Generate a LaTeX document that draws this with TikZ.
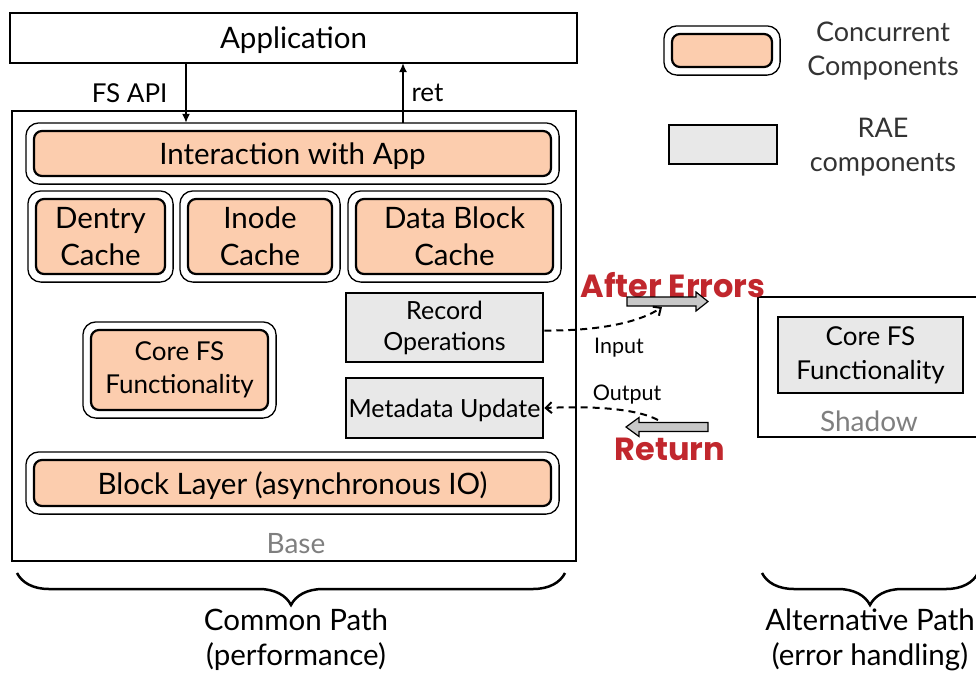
\documentclass[tikz,border=0pt]{standalone}
\usepackage{fontspec}
\setmainfont{Lato}
\newfontfamily\heavyfont{Poppins}
\usetikzlibrary{arrows.meta,decorations.pathreplacing,calc}
\definecolor{peach}{HTML}{FCCDAE}
\definecolor{raegray}{HTML}{E8E8E8}
\definecolor{errred}{HTML}{C1272D}
\definecolor{lblgray}{HTML}{7F7F7F}
\definecolor{arrgray}{HTML}{C8C8C8}
\newcommand\fsz[2]{\fontsize{#1}{#2}\selectfont}
\newcommand\mycomp[7]{%
  \node[innerbox, minimum width=#4pt, minimum height=#5pt, #7] (#1) at (#2,#3) {#6};
  \draw[outerbox] ($(#1.north west)+(-7,-7)$) rectangle ($(#1.south east)+(7,7)$);}
\begin{document}
\begin{tikzpicture}[x=1pt,y=-1pt,
  innerbox/.style={draw, line width=2.2pt, rounded corners=8pt, fill=peach, align=center, inner sep=0pt, font=\fsz{29.5}{37}},
  outerbox/.style={draw, line width=1.3pt, rounded corners=13pt},
  raebox/.style={draw, line width=2.5pt, fill=raegray, align=center, inner sep=0pt, font=\fsz{25}{31}},
  framebox/.style={draw, line width=1.3pt, inner sep=0pt},
  oneline/.style={text depth=0pt},
  graylbl/.style={text=lblgray, font=\fsz{28}{30}},
  redlbl/.style={text=errred, font=\heavyfont\fsz{32}{32}\bfseries},
  smalllbl/.style={font=\fsz{21.5}{24}},
  leglbl/.style={text=black!80, font=\fsz{27}{34}, align=center},
  dasharrow/.style={line width=2pt, dash pattern=on 7pt off 5pt, -{Straight Barb[length=6pt,width=11pt]}},
  solidarrow/.style={line width=1.8pt, -{Latex[length=9pt,width=8pt]}},
  blockarrow/.style={draw, line width=1.2pt, fill=arrgray},
  bracestyle/.style={decorate, line width=2.5pt, decoration={brace, mirror, amplitude=32pt}}
]
\useasboundingbox (0,0) rectangle (976,675);

% Application and Base frames
\node[framebox, oneline, minimum width=567pt, minimum height=50pt, font=\fsz{29.5}{30}] (app) at (293.5,38) {Application};
\node[framebox, minimum width=564pt, minimum height=450pt] (base) at (294,336) {};
\node[graylbl] (baselbl) at (296,544) {Base};

% Concurrent components
\mycomp{inter}{292.5}{153.5}{517}{45}{Interaction with App}{oneline}
\mycomp{dentry}{100.5}{236.5}{129}{75}{Dentry\\Cache}{}
\mycomp{inode}{260}{236.5}{144}{75}{Inode\\Cache}{}
\mycomp{datab}{454.5}{236.5}{197}{75}{Data Block\\Cache}{}
\mycomp{corefs}{179.5}{370}{177}{80}{Core FS\\Functionality}{font=\fsz{26}{33}}
\mycomp{block}{292.5}{483}{517}{46}{Block Layer (asynchronous IO)}{oneline}

% RAE components
\node[raebox, minimum width=197pt, minimum height=69pt] (record) at (444.5,327.5) {Record\\Operations};
\node[raebox, oneline, minimum width=197pt, minimum height=60pt] (meta) at (444.5,408) {Metadata Update};

% FS API / ret arrows
\coordinate (apiTop) at (186,63);
\coordinate (retTop) at (403,63);
\draw[solidarrow] (apiTop) -- ($(apiTop|-inter.north)+(0,-7)$);
\draw[solidarrow] ($(retTop|-inter.north)+(0,-7)$) -- (retTop);
\node[font=\fsz{26}{28}, anchor=east] (fsapi) at (171,93) {FS API};
\node[font=\fsz{26}{28}, anchor=west] (ret) at (408,93) {ret};

% Shadow
\draw[line width=1.3pt] (990,297) -- (758,297) -- (758,437) -- (990,437);
\node[raebox, minimum width=185pt, minimum height=76pt, font=\fsz{26}{34}] (shadowcore) at (870.5,355) {Core FS\\Functionality};
\node[graylbl] (shadowlbl) at (869,421) {Shadow};

% After Errors / Return
\node[redlbl] (aftererr) at (673,285) {After Errors};
\node[redlbl] (retlbl) at (670,449) {Return};
\draw[blockarrow] (627,297) -- (696,297) -- (696,292) -- (708,301.5) -- (696,311) -- (696,306) -- (627,306) -- cycle;
\draw[blockarrow] (708,422.5) -- (639,422.5) -- (639,417.5) -- (626,427) -- (639,436.5) -- (639,431.5) -- (708,431.5) -- cycle;

% Dashed input/output
\coordinate (inTip) at (662,307);
\coordinate (outStart) at (658,420);
\draw[dasharrow] ($(record.east)+(0,3)$) .. controls (600,331) and (640,322) .. (inTip);
\draw[dasharrow] (outStart) .. controls (635,408) and (590,406) .. (meta.east);
\node[smalllbl] (inputlbl) at (619,348) {Input};
\node[smalllbl] (outputlbl) at (627,395) {Output};

% Legend
\node[innerbox, minimum width=100pt, minimum height=33pt] (legc) at (722,50.5) {};
\draw[outerbox] ($(legc.north west)+(-7,-7)$) rectangle ($(legc.south east)+(7,7)$);
\node[raebox, minimum width=108pt, minimum height=39pt] (legr) at (723,144.5) {};
\node[leglbl] (legctext) at (883,51) {Concurrent\\Components};
\node[leglbl] (legrtext) at (883,147) {RAE\\components};

% Braces
\coordinate (b1l) at (17,573);
\coordinate (b1r) at (565,573);
\coordinate (b2l) at (762,573);
\coordinate (b2r) at (978,573);
\draw[bracestyle] (b1l) -- (b1r);
\draw[bracestyle] (b2l) -- (b2r);
\node[font=\fsz{29.5}{35}, align=center] (common) at (296,640) {Common Path\\(performance)};
\node[font=\fsz{29.5}{35}, align=center] (alt) at (870,640) {Alternative Path\\(error handling)};
\end{tikzpicture}
\end{document}
